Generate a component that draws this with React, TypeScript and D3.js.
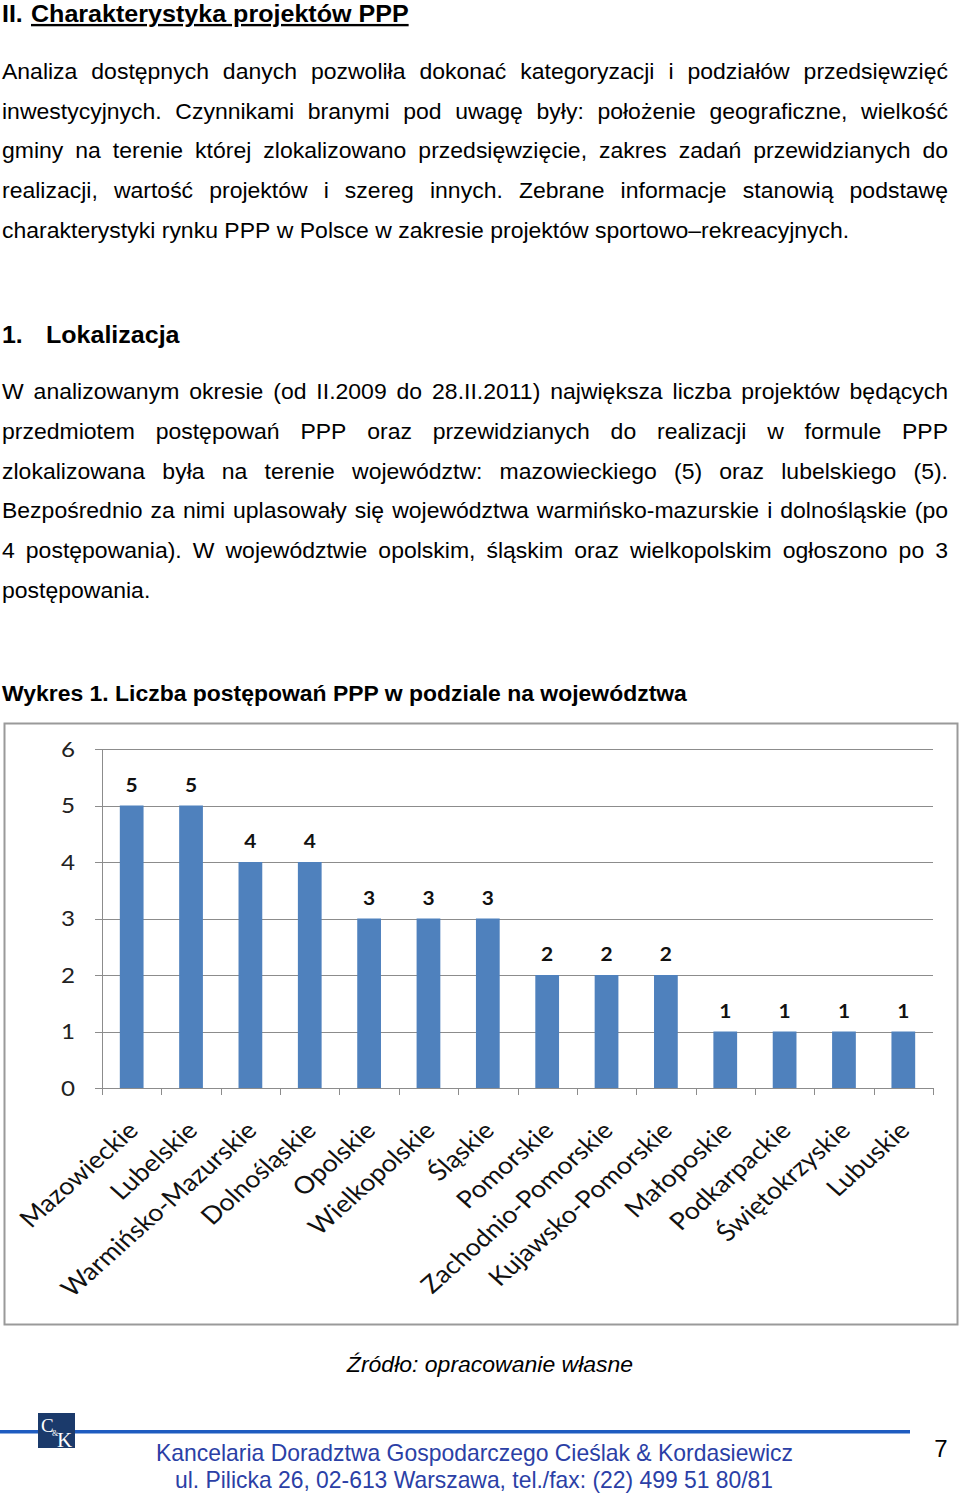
import React, { useEffect, useRef } from "react";
import * as d3 from "d3";

const categories = [
  "Mazowieckie", "Lubelskie", "Warmińsko-Mazurskie", "Dolnośląskie", "Opolskie",
  "Wielkopolskie", "Śląskie", "Pomorskie", "Zachodnio-Pomorskie", "Kujawsko-Pomorskie",
  "Małoposkie", "Podkarpackie", "Świętokrzyskie", "Lubuskie",
];
const values = [5, 5, 4, 4, 3, 3, 3, 2, 2, 2, 1, 1, 1, 1];
const yTicks = [0, 1, 2, 3, 4, 5, 6];

const para1 = [
  "Analiza dostępnych danych pozwoliła dokonać kategoryzacji i podziałów przedsięwzięć",
  "inwestycyjnych. Czynnikami branymi pod uwagę były: położenie geograficzne, wielkość",
  "gminy na terenie której zlokalizowano przedsięwzięcie, zakres zadań przewidzianych do",
  "realizacji, wartość projektów i szereg innych. Zebrane informacje stanowią podstawę",
  "charakterystyki rynku PPP w Polsce w zakresie projektów sportowo–rekreacyjnych.",
];
const para2 = [
  "W analizowanym okresie (od II.2009 do 28.II.2011) największa liczba projektów będących",
  "przedmiotem postępowań PPP oraz przewidzianych do realizacji w formule PPP",
  "zlokalizowana była na terenie województw: mazowieckiego (5) oraz lubelskiego (5).",
  "Bezpośrednio za nimi uplasowały się województwa warmińsko-mazurskie i dolnośląskie (po",
  "4 postępowania). W województwie opolskim, śląskim oraz wielkopolskim ogłoszono po 3",
  "postępowania.",
];

const BODY_FONT = "'Liberation Sans', Arial, sans-serif";
const CHART_FONT = "Lato, 'Open Sans', sans-serif";
const SX = 1.045;

export default function App() {
  const ref = useRef<SVGSVGElement>(null);

  useEffect(() => {
    const svg = d3.select(ref.current);
    svg.selectAll("*").remove();

    const BODY_SIZE = 22;

    const stretched = (g: any, x: number, y: number, txt: string, size: number, sx: number, opts: any = {}) => {
      const t = g.append("text")
        .attr("transform", `translate(${x},${y}) scale(${sx},1)`)
        .attr("font-family", BODY_FONT).attr("font-size", size).attr("fill", opts.fill || "#000")
        .text(txt);
      if (opts.bold) t.attr("font-weight", "bold");
      if (opts.italic) t.attr("font-style", "italic");
      if (opts.underline) t.attr("text-decoration", "underline");
      if (opts.anchor) t.attr("text-anchor", opts.anchor);
      return t;
    };

    const justifyLine = (g: any, text: string, x0: number, x1: number, y: number, justify: boolean) => {
      const words = text.split(" ");
      const nodes = words.map((w) =>
        g.append("text").attr("font-family", BODY_FONT)
          .attr("font-size", BODY_SIZE).attr("fill", "#000").text(w)
      );
      const widths = nodes.map((n: any) => (n.node() as SVGTextElement).getComputedTextLength() * SX);
      const total = widths.reduce((a: number, b: number) => a + b, 0);
      const gap = justify && words.length > 1 ? (x1 - x0 - total) / (words.length - 1) : 6.4;
      let x = x0;
      nodes.forEach((n: any, i: number) => {
        n.attr("transform", `translate(${x},${y}) scale(${SX},1)`);
        x += widths[i] + gap;
      });
    };

    const page = svg.append("g");

    // Title
    stretched(page, 2, 22, "II.", 23.5, 1.06, { bold: true });
    stretched(page, 31, 22, "Charakterystyka projektów PPP", 23.5, 1.067, { bold: true, underline: true });

    const p1y = [79, 119, 158, 198, 238];
    para1.forEach((l, i) => justifyLine(page, l, 2, 948, p1y[i], i < para1.length - 1));

    stretched(page, 2, 343, "1.", 23.5, 1.06, { bold: true });
    stretched(page, 46, 343, "Lokalizacja", 23.5, 1.065, { bold: true });

    const p2y = [399, 439, 479, 518, 558, 598];
    para2.forEach((l, i) => justifyLine(page, l, 2, 948, p2y[i], i < para2.length - 1));

    stretched(page, 2, 701, "Wykres 1. Liczba postępowań PPP w podziale na województwa", 22, 1.043, { bold: true });

    // ---------- chart ----------
    const chart = svg.append("g");
    chart.append("rect").attr("x", 4.5).attr("y", 723.5).attr("width", 953).attr("height", 601)
      .attr("fill", "#fff").attr("stroke", "#9a9a9a").attr("stroke-width", 2);

    const x = d3.scaleBand<string>().domain(categories).range([102, 933]).paddingInner(0.6).paddingOuter(0.3);
    const xTick = d3.scaleBand<string>().domain(categories).range([102, 933]);
    const y = d3.scaleLinear().domain([0, 6]).range([1088, 749]);

    chart.append("g").selectAll("line").data(yTicks.filter((t) => t > 0)).join("line")
      .attr("x1", 102).attr("x2", 933)
      .attr("y1", (d) => Math.round(y(d)) + 0.5).attr("y2", (d) => Math.round(y(d)) + 0.5)
      .attr("stroke", "#8c8c8c").attr("stroke-width", 1);

    chart.append("line").attr("x1", 102.5).attr("x2", 102.5).attr("y1", y(6)).attr("y2", y(0))
      .attr("stroke", "#8c8c8c");
    chart.append("g").selectAll("line").data(yTicks).join("line")
      .attr("x1", 95).attr("x2", 102)
      .attr("y1", (d) => Math.round(y(d)) + 0.5).attr("y2", (d) => Math.round(y(d)) + 0.5)
      .attr("stroke", "#8c8c8c");
    chart.append("g").selectAll("text").data(yTicks).join("text")
      .attr("transform", (d) => `translate(75,${y(d) + 7.5}) scale(1.1,1)`)
      .attr("text-anchor", "end").attr("font-family", CHART_FONT).attr("font-size", 22)
      .attr("fill", "#222").text((d) => String(d));

    chart.append("g").selectAll("rect").data(categories).join("rect")
      .attr("x", (d) => x(d)!).attr("width", x.bandwidth())
      .attr("y", (_d, i) => y(values[i])).attr("height", (_d, i) => y(0) - y(values[i]))
      .attr("fill", "#4f81bd");

    chart.append("g").selectAll("text").data(categories).join("text")
      .attr("transform", (d, i) => `translate(${x(d)! + x.bandwidth() / 2},${y(values[i]) - 14}) scale(1.1,1)`)
      .attr("text-anchor", "middle").attr("font-family", CHART_FONT).attr("font-size", 19)
      .attr("font-weight", "bold").attr("fill", "#111").text((_d, i) => String(values[i]));

    chart.append("line").attr("x1", 102).attr("x2", 933).attr("y1", 1088.5).attr("y2", 1088.5)
      .attr("stroke", "#8c8c8c");
    const tickXs = categories.map((c) => xTick(c)!).concat([933]);
    chart.append("g").selectAll("line").data(tickXs).join("line")
      .attr("x1", (d) => Math.round(d) + 0.5).attr("x2", (d) => Math.round(d) + 0.5)
      .attr("y1", 1088).attr("y2", 1095).attr("stroke", "#8c8c8c");

    chart.append("g").selectAll("text").data(categories).join("text")
      .attr("transform", (d) => `translate(${xTick(d)! + xTick.bandwidth() / 2 + 8},${1132}) scale(1.12,1) rotate(-45)`)
      .attr("text-anchor", "end").attr("font-family", CHART_FONT).attr("font-size", 24)
      .attr("fill", "#111").text((d) => d);

    // source
    stretched(page, 490, 1372, "Źródło: opracowanie własne", 22, 1.045, { italic: true, anchor: "middle" });

    // ---------- footer ----------
    page.append("rect").attr("x", 0).attr("y", 1430).attr("width", 910).attr("height", 3.5).attr("fill", "#1f5cc0");
    page.append("rect").attr("x", 38).attr("y", 1413).attr("width", 37).attr("height", 35).attr("fill", "#1b3a6b");
    const logo = page.append("text").attr("font-family", "'Liberation Serif', serif").attr("fill", "#fff");
    logo.append("tspan").attr("x", 41).attr("y", 1432).attr("font-size", 19).text("C");
    logo.append("tspan").attr("x", 52).attr("y", 1436).attr("font-size", 8).text("&");
    logo.append("tspan").attr("x", 57).attr("y", 1447).attr("font-size", 21).text("K");

    const FOOT = "'Liberation Sans Narrow', 'Liberation Sans', sans-serif";
    page.append("text").attr("x", 156).attr("y", 1461)
      .attr("font-family", FOOT).attr("font-size", 24).attr("fill", "#2b3fa6")
      .attr("textLength", 637).attr("lengthAdjust", "spacingAndGlyphs")
      .text("Kancelaria Doradztwa Gospodarczego Cieślak & Kordasiewicz");
    page.append("text").attr("x", 175).attr("y", 1488)
      .attr("font-family", FOOT).attr("font-size", 24).attr("fill", "#2b3fa6")
      .attr("textLength", 598).attr("lengthAdjust", "spacingAndGlyphs")
      .text("ul. Pilicka 26, 02-613 Warszawa, tel./fax: (22) 499 51 80/81");
    page.append("text").attr("x", 941).attr("y", 1457).attr("text-anchor", "middle")
      .attr("font-family", FOOT).attr("font-size", 24).attr("fill", "#000").text("7");
  }, []);

  return (
    <svg
      ref={ref}
      width={960}
      height={1497}
      style={{ position: "absolute", left: 0, top: 0, background: "#fff", display: "block" }}
    />
  );
}
